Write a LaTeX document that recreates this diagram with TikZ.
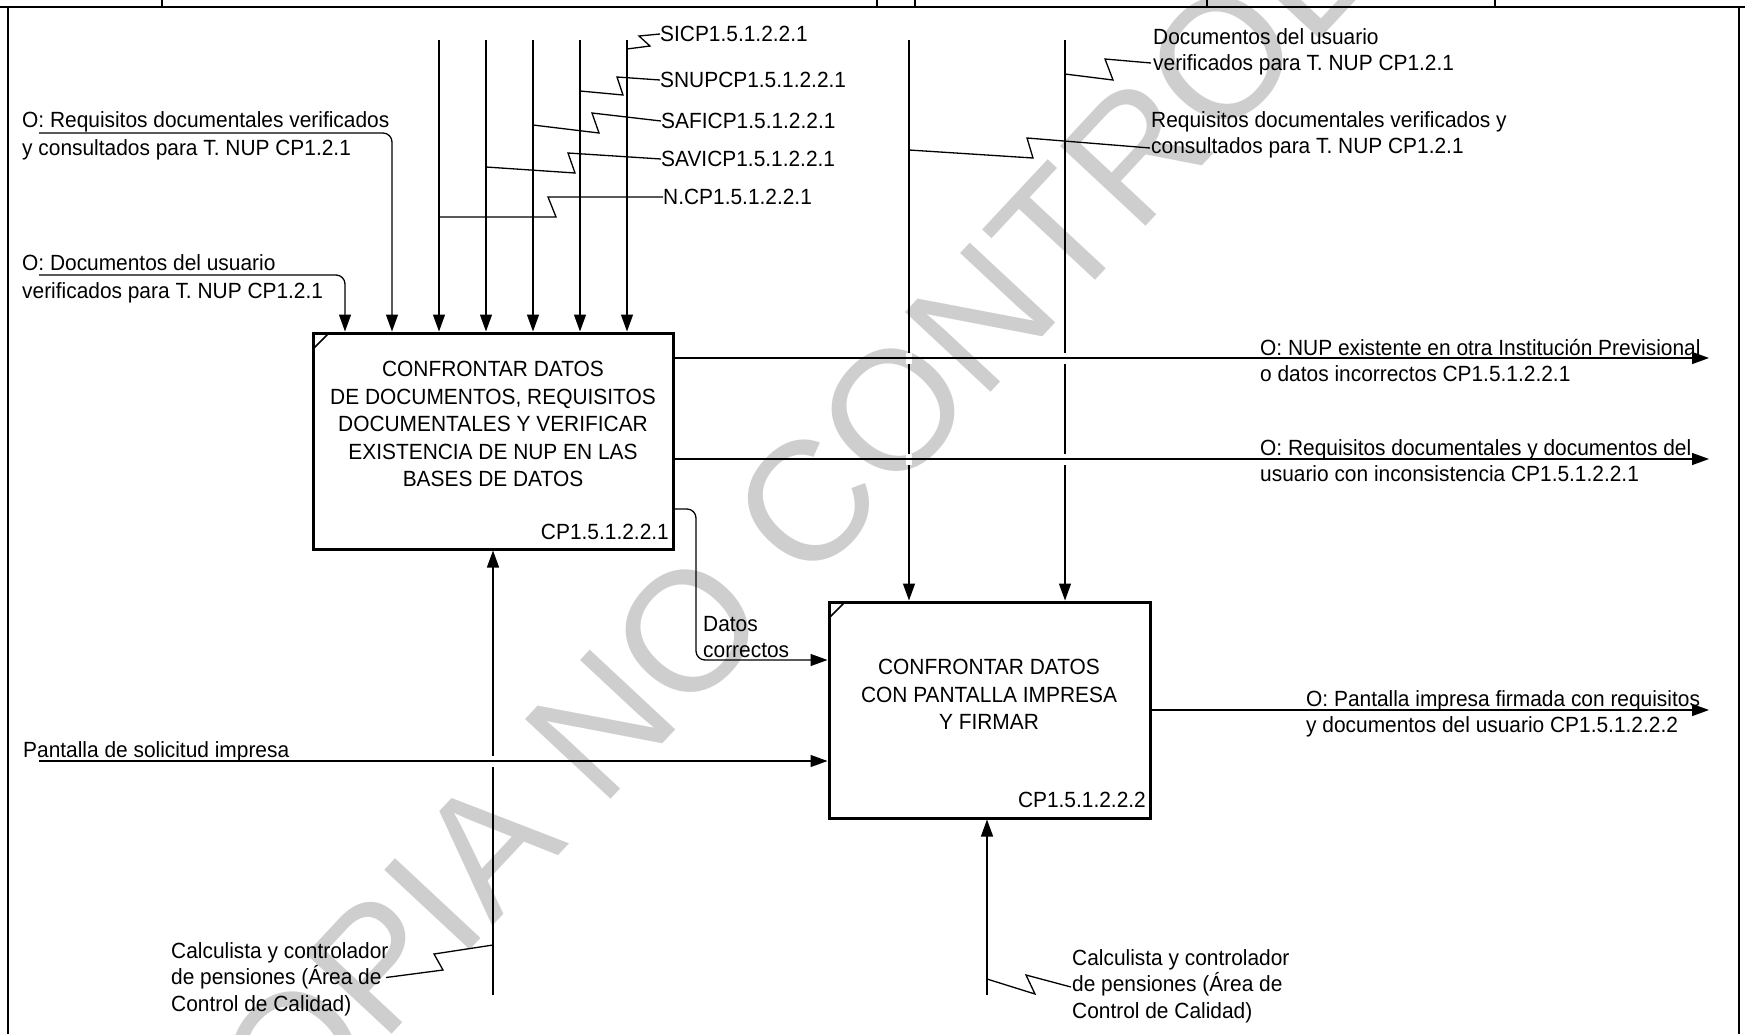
\documentclass[tikz,border=0pt]{standalone}
\usepackage{fontspec}
\setmainfont{Liberation Sans}[FakeStretch=0.95]
\newfontfamily\wmfont{Liberation Sans}
\usetikzlibrary{arrows.meta,calc}
\definecolor{wm}{RGB}{206,206,206}
\begin{document}
\begin{tikzpicture}[x=1pt,y=-1pt,
  conn/.style={line width=1.3pt},
  arr/.style={conn,-{Triangle[length=17pt,width=12pt]}},
  proc/.style={draw,line width=3pt,minimum width=#1,minimum height=216pt,inner sep=0pt},
  lbl/.style={inner sep=0pt,font=\fontsize{22}{26.5}\selectfont,align=left},
  wlbl/.style={lbl,font=\fontsize{22}{28.5}\selectfont},
  btxt/.style={inner sep=0pt,font=\fontsize{22}{27.5}\selectfont,align=center,anchor=north},
  gap/.style={fill=white}
]
\useasboundingbox (0,0) rectangle (1745,1034);
% watermark
\node[rotate=47,text=wm,font=\wmfont\fontsize{170}{175}\selectfont,inner sep=0pt] (wmk) at (868,438) {COPIA NO CONTROLADA};
% frame
\draw[line width=2pt] (0,7) -- (1745,7);
\draw[conn] (8,7) -- (8,1034);
\draw[conn] (1739,7) -- (1739,1034);
\foreach \x in {162,877,915,1207,1495} \draw[conn] (\x,0) -- (\x,7);
% boxes
\node[proc=360pt] (b1) at (493,441) {};
\node[proc=321pt] (b2) at (989.5,710) {};
\draw[line width=1.5pt] ($(b1.north west)+(1.5,17.5)$) -- ($(b1.north west)+(17.5,1.5)$);
\draw[line width=1.5pt] ($(b2.north west)+(1.5,17.5)$) -- ($(b2.north west)+(17.5,1.5)$);
\node[btxt] (b1t) at (493,361) {CONFRONTAR DATOS\\DE DOCUMENTOS, REQUISITOS\\DOCUMENTALES Y  VERIFICAR\\EXISTENCIA DE NUP EN LAS\\BASES DE DATOS};
\node[lbl,anchor=east] (b1id) at (669,532) {CP1.5.1.2.2.1};
\node[btxt] (b2t) at (989,659) {CONFRONTAR DATOS\\CON PANTALLA IMPRESA\\Y FIRMAR};
\node[lbl,anchor=east] (b2id) at (1146,800) {CP1.5.1.2.2.2};
% left inputs
\node[wlbl,anchor=north west] (lreq) at (22,111) {O: Requisitos documentales verificados\\y consultados para T. NUP CP1.2.1};
\coordinate (lreqs) at (39,133);
\coordinate (lreqc) at (392,133);
\draw[arr,rounded corners=9pt] (lreqs) -- (lreqc) -- (lreqc |- b1.north);
\node[wlbl,anchor=north west] (ldoc) at (22,254) {O: Documentos del usuario\\verificados para T. NUP CP1.2.1};
\coordinate (ldocs) at (39,275);
\coordinate (ldocc) at (345,275);
\draw[arr,rounded corners=9pt] (ldocs) -- (ldocc) -- (ldocc |- b1.north);
% top inputs to box 1
\foreach \n/\x in {3/439,4/486,5/533,6/580,7/627} {
  \coordinate (t\n) at (\x,40);
  \draw[arr] (t\n) -- (t\n |- b1.north);
}
\node[lbl,anchor=west] (sSI) at (660,34) {SICP1.5.1.2.2.1};
\node[lbl,anchor=west] (sSN) at (660,80) {SNUPCP1.5.1.2.2.1};
\node[lbl,anchor=west] (sSA) at (661,121) {SAFICP1.5.1.2.2.1};
\node[lbl,anchor=west] (sSV) at (661,159) {SAVICP1.5.1.2.2.1};
\node[lbl,anchor=west] (sNC) at (663,197) {N.CP1.5.1.2.2.1};
\coordinate (z7) at (627,49);
\coordinate (z6) at (580,91);
\coordinate (z5) at (533,125);
\coordinate (z4) at (486,167);
\coordinate (z3) at (439,217);
\draw[conn] (z7) -- (650,46) -- (639,36) -- (sSI.west);
\draw[conn] (z6) -- (623,95) -- (617,77) -- (sSN.west);
\draw[conn] (z5) -- (599,133) -- (592,113) -- (sSA.west);
\draw[conn] (z4) -- (575,173) -- (568,153) -- (sSV.west);
\draw[conn] (z3) -- (556,217) -- (548,197) -- (sNC.west);
% top inputs to box 2
\coordinate (t8) at (909,40);
\coordinate (t9) at (1065,40);
\draw[arr] (t8) -- (t8 |- b2.north);
\draw[arr] (t9) -- (t9 |- b2.north);
\node[lbl,anchor=north west] (rdoc) at (1153,28) {Documentos del usuario\\verificados para T. NUP CP1.2.1};
\node[lbl,anchor=north west] (rreq) at (1151,111) {Requisitos documentales verificados y\\consultados para T. NUP CP1.2.1};
\coordinate (z9) at (1065,74);
\coordinate (z8) at (909,150);
\coordinate (rdocE) at (1151,63);
\coordinate (rreqE) at (1150,148);
\draw[conn] (z9) -- (1113,80) -- (1105,59) -- (rdocE);
\draw[conn] (z8) -- (1033,158) -- (1027,138) -- (rreqE);
% bottom controls
\coordinate (m1) at (493,995);
\coordinate (m2) at (987,995);
\draw[arr] (m1) -- (m1 |- b1.south);
\draw[arr] (m2) -- (m2 |- b2.south);
\node[lbl,anchor=north west] (cal1) at (171,942) {Calculista y controlador\\de pensiones (Área de\\Control de Calidad)};
\node[lbl,anchor=north west] (cal2) at (1072,949) {Calculista y controlador\\de pensiones (Área de\\Control de Calidad)};
\coordinate (zm1) at (493,945);
\coordinate (zm2) at (987,979);
\draw[conn] (zm1) -- (434,954) -- (443,970) -- (386,977.5);
\draw[conn] (zm2) -- (1035,994) -- (1026,975) -- (1071,987);
% crossing gaps
\fill[gap] (906,353) rectangle (912,364);
\fill[gap] (906,454) rectangle (912,465);
\fill[gap] (1062,353) rectangle (1068,364);
\fill[gap] (1062,454) rectangle (1068,465);
\fill[gap] (490,756) rectangle (496,767);
% outputs
\coordinate (o1) at (1709,358);
\coordinate (o2) at (1709,459);
\coordinate (o3) at (1709,710);
\draw[arr] (b1.east |- o1) -- (o1);
\draw[arr] (b1.east |- o2) -- (o2);
\draw[arr] (b2.east |- o3) -- (o3);
\node[lbl,anchor=north west] (out1) at (1260,339) {O: NUP existente en otra Institución Previsional\\o datos incorrectos CP1.5.1.2.2.1};
\node[lbl,anchor=north west] (out2) at (1260,439) {O: Requisitos documentales y documentos del\\usuario con inconsistencia CP1.5.1.2.2.1};
\node[lbl,anchor=north west] (out3) at (1306,690) {O: Pantalla impresa firmada con requisitos\\y documentos del usuario CP1.5.1.2.2.2};
% datos correctos
\coordinate (dA) at (696,509);
\coordinate (dB) at (696,660);
\draw[arr,rounded corners=9pt] (b1.east |- dA) -- (dA) -- (dB) -- (b2.west |- dB);
\node[lbl,anchor=north west] (dat) at (703,616) {Datos\\correctos};
% pantalla
\coordinate (pS) at (39,761);
\draw[arr] (pS) -- (b2.west |- pS);
\node[lbl,anchor=north west] (pan) at (23,741) {Pantalla de solicitud impresa};
\end{tikzpicture}
\end{document}
